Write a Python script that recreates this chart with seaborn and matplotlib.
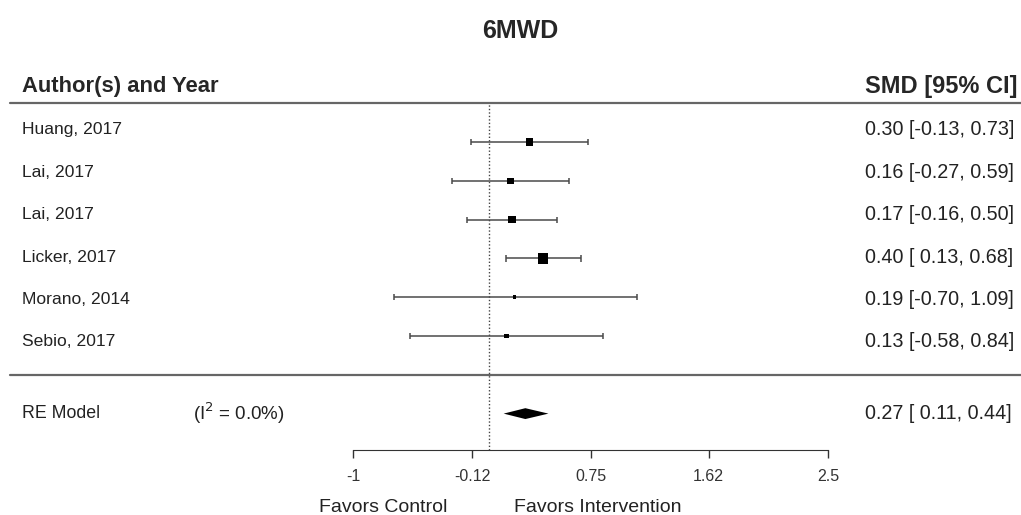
import numpy as np
import pandas as pd
import matplotlib
matplotlib.use("Agg")
import matplotlib.pyplot as plt
import seaborn as sns

sns.set_style("white")
plt.rcParams['font.family'] = ['Liberation Sans', 'DejaVu Sans']

# study level data
studies = ["Huang, 2017", "Lai, 2017", "Lai, 2017", "Licker, 2017", "Morano, 2014", "Sebio, 2017"]
smd = [0.30, 0.16, 0.17, 0.40, 0.19, 0.13]
ci_lb = [-0.13, -0.27, -0.16, 0.13, -0.70, -0.58]
ci_ub = [0.73, 0.59, 0.50, 0.68, 1.09, 0.84]
weights = [17.7, 13.2, 20.5, 36.7, 4.5, 7.4]

# pooled random effects estimate
re_est = 0.27
re_lb = 0.11
re_ub = 0.44
i2_text = "0.0%"

xticks = [-1, -0.12, 0.75, 1.62, 2.5]
xtick_labels = ["-1", "-0.12", "0.75", "1.62", "2.5"]

k = len(studies)
rows = np.arange(k, 0, -1)
df = pd.DataFrame({"study": studies, "yi": smd, "lb": ci_lb, "ub": ci_ub,
                   "w": weights, "row": rows})

fig = plt.figure(figsize=(10.21, 5.15), dpi=100)
ax = fig.add_axes([353 / 1021, 0, 475 / 1021, 1])
ax.set_xlim(-1, 2.5)
ax.set_ylim(-3.613, 9.66)

line_col = "#4a4a4a"
x_left, x_right = -3.53, 3.95

# header and separator lines
ax.plot([x_left, x_right], [7, 7], color="#666666", lw=1.6, clip_on=False)
ax.plot([x_left, x_right], [0, 0], color="#666666", lw=1.6, clip_on=False)

# reference line at zero
ax.vlines(0, -1.95, 7, colors="#444444", linestyles=(0, (1, 1.5)), lw=1)

# confidence intervals
ax.hlines(df["row"], df["lb"], df["ub"], colors=line_col, lw=1.1)
cap = 0.08
ax.vlines(df["lb"], df["row"] - cap, df["row"] + cap, colors=line_col, lw=1.1)
ax.vlines(df["ub"], df["row"] - cap, df["row"] + cap, colors=line_col, lw=1.1)

# point estimates sized by weight
sns.scatterplot(data=df, x="yi", y="row", size="w", sizes=(7, 56),
                marker="s", color="black", linewidth=0, legend=False, ax=ax, zorder=3)

# summary diamond
h = 0.14
ax.fill([re_lb, re_est, re_ub, re_est], [-1, -1 + h, -1, -1 - h], color="black", lw=0)

# axis
for s in ["top", "left", "right"]:
    ax.spines[s].set_visible(False)
ax.spines["bottom"].set_position(("data", -1.95))
ax.spines["bottom"].set_bounds(-1, 2.5)
ax.spines["bottom"].set_color("#333333")
ax.set_xticks(xticks)
ax.set_xticklabels(xtick_labels, fontsize=11.5, color="#333333")
ax.tick_params(axis="x", direction="out", length=6, width=1, color="#333333", pad=7, bottom=True)
ax.set_yticks([])
ax.set_xlabel("")
ax.set_ylabel("")

# text columns
text_rows = np.linspace(6.31, 0.85, k)
lab_x = -3.44
res_x = 2.773
for i in range(k):
    ax.text(lab_x, text_rows[i], studies[i], fontsize=12.6, color="#222222",
            va="center", ha="left", clip_on=False)
    ax.text(res_x, text_rows[i], f"{smd[i]:.2f} [{ci_lb[i]:5.2f}, {ci_ub[i]:.2f}]",
            fontsize=14.2, color="#222222", va="center", ha="left", clip_on=False)

ax.text(lab_x, -1, "RE Model", fontsize=12.8, color="#222222", va="center", ha="left", clip_on=False)
ax.text(-2.18, -1, "(I$^2$ = " + i2_text + ")", fontsize=13.5, color="#222222",
        va="center", ha="left", clip_on=False)
ax.text(res_x, -1, f"{re_est:.2f} [{re_lb:5.2f}, {re_ub:.2f}]", fontsize=14.2,
        color="#222222", va="center", ha="left", clip_on=False)

ax.text(lab_x, 7.42, "Author(s) and Year", fontsize=15.8, fontweight="bold",
        va="center", ha="left", clip_on=False)
ax.text(res_x, 7.42, "SMD [95% CI]", fontsize=17, fontweight="bold",
        va="center", ha="left", clip_on=False)

ax.text(-0.78, -3.41, "Favors Control", fontsize=14, color="#222222", va="center", ha="center", clip_on=False)
ax.text(0.80, -3.41, "Favors Intervention", fontsize=14, color="#222222", va="center", ha="center", clip_on=False)

fig.text(520 / 1021, 1 - 31 / 515, "6MWD", fontsize=18, fontweight="bold", ha="center", va="center")

fig.savefig("out.png", dpi=100)
